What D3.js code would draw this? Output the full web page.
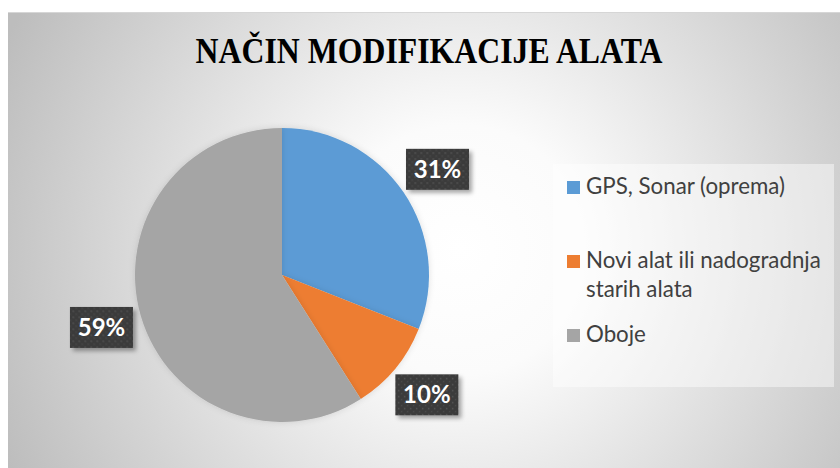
<!DOCTYPE html>
<html><head><meta charset="utf-8">
<script src="https://cdn.jsdelivr.net/npm/d3@7"></script>
<style>html,body{margin:0;padding:0;background:#fff;}svg{display:block;}</style>
</head><body>
<svg id="c" width="840" height="468"></svg>
<script>
const categories = ["GPS, Sonar (oprema)", "Novi alat ili nadogradnja starih alata", "Oboje"];
const legendLines = [["GPS, Sonar (oprema)"], ["Novi alat ili nadogradnja", "starih alata"], ["Oboje"]];
const values = [31, 10, 59];
const labels = ["31%", "10%", "59%"];
const colors = ["#5b9bd5", "#ed7d31", "#a5a5a5"];
const title = "NAČIN MODIFIKACIJE ALATA";

const svg = d3.select("#c");
const defs = svg.append("defs");
const rg = defs.append("radialGradient").attr("id","bg").attr("gradientUnits","userSpaceOnUse")
  .attr("cx",460).attr("cy",250).attr("r",500);
rg.append("stop").attr("offset","0%").attr("stop-color","#ffffff");
rg.append("stop").attr("offset","25%").attr("stop-color","#fbfbfb");
rg.append("stop").attr("offset","100%").attr("stop-color","#bdbdbd");

const pat = defs.append("pattern").attr("id","dots").attr("patternUnits","userSpaceOnUse")
  .attr("width",6).attr("height",6);
pat.append("rect").attr("width",6).attr("height",6).attr("fill","#3b3b3b");
pat.append("rect").attr("x",1).attr("y",1).attr("width",1.5).attr("height",1.5).attr("fill","#555");
pat.append("rect").attr("x",4).attr("y",4).attr("width",1.5).attr("height",1.5).attr("fill","#4a4a4a");

const sh = defs.append("filter").attr("id","sh").attr("x","-20%").attr("y","-20%").attr("width","150%").attr("height","160%");
sh.append("feDropShadow").attr("dx",3).attr("dy",3).attr("stdDeviation",2).attr("flood-color","#000").attr("flood-opacity",0.35);
const sh2 = defs.append("filter").attr("id","sh2").attr("x","-10%").attr("y","-10%").attr("width","120%").attr("height","120%");
sh2.append("feDropShadow").attr("dx",0).attr("dy",0).attr("stdDeviation",3).attr("flood-color","#000").attr("flood-opacity",0.12);

// chart area
svg.append("rect").attr("x",8).attr("y",13).attr("width",832).attr("height",455).attr("fill","url(#bg)");
svg.append("line").attr("x1",8).attr("x2",840).attr("y1",12.5).attr("y2",12.5).attr("stroke","#d6d6d6").attr("stroke-width",1);

// title
svg.append("text").attr("x",429).attr("y",63).attr("text-anchor","middle")
  .attr("font-family","'Liberation Serif','Times New Roman',serif").attr("font-weight","bold")
  .attr("font-size",35).attr("fill","#000")
  .attr("textLength",467).attr("lengthAdjust","spacingAndGlyphs")
  .text(title);

// pie
const cx = 282, cy = 275, R = 147;
const pie = d3.pie().sort(null).value(d => d)(values);
const arc = d3.arc().innerRadius(0).outerRadius(R);
const g = svg.append("g").attr("transform",`translate(${cx},${cy})`);
g.selectAll("path").data(pie).join("path").attr("d",arc).attr("fill",(d,i)=>colors[i]).attr("filter","url(#sh2)");

// labels
const lArc = d3.arc().innerRadius(188).outerRadius(188);
const bw = 63, bh = 41;
const lg = g.selectAll("g.lbl").data(pie).join("g").attr("class","lbl")
  .attr("transform", d => { const c = lArc.centroid(d); return `translate(${c[0]},${c[1]})`; });
lg.append("rect").attr("x",-bw/2).attr("y",-bh/2).attr("width",bw).attr("height",bh)
  .attr("fill","url(#dots)").attr("filter","url(#sh)");
lg.append("text").attr("text-anchor","middle").attr("y",8.5)
  .attr("font-family","Lato,'Open Sans',sans-serif").attr("font-weight","bold").attr("font-size",24)
  .attr("fill","#fff").text((d,i)=>labels[i]);

// legend
svg.append("rect").attr("x",553).attr("y",164).attr("width",281).attr("height",223)
  .attr("fill","#ffffff").attr("fill-opacity",0.45);
const legY = [194, 268, 342];
const leg = svg.selectAll("g.leg").data(categories).join("g").attr("class","leg")
  .attr("transform",(d,i)=>`translate(567,${legY[i]})`);
leg.append("rect").attr("x",0).attr("y",-13).attr("width",13).attr("height",13).attr("fill",(d,i)=>colors[i]);
leg.append("text").attr("x",19).attr("y",0)
  .attr("font-family","Lato,'Open Sans',sans-serif").attr("font-size",22.3).attr("fill","#404040")
  .selectAll("tspan").data((d,i)=>legendLines[i]).join("tspan")
  .attr("x",19).attr("dy",(d,j)=> j===0 ? 0 : 29).text(d=>d);
</script>
</body></html>
